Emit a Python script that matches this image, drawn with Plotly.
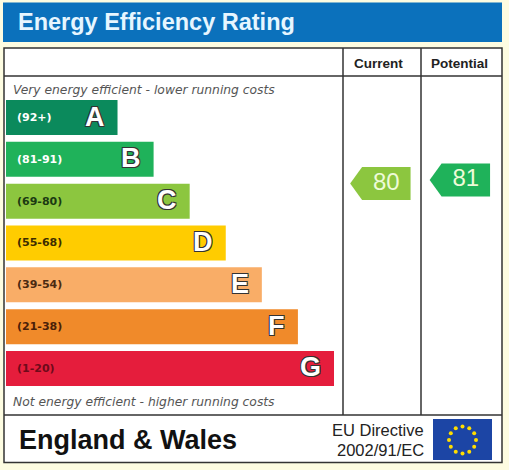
import math
import plotly.graph_objects as go

# EPC bands, top (best) to bottom (worst)
bands = ["A", "B", "C", "D", "E", "F", "G"]
band_ranges = ["(92+)", "(81-91)", "(69-80)", "(55-68)", "(39-54)", "(21-38)", "(1-20)"]
band_lower = [92, 81, 69, 55, 39, 21, 1]
bar_length = [34, 45, 56, 67, 78, 89, 100]  # relative bar lengths, G = 100
band_colors = ["#0b8a5c", "#1fb25a", "#8cc63f", "#ffcc00", "#f9ad67", "#f08a2a", "#e51d3c"]
range_text_colors = ["#ffffff", "#ffffff", "#1c3a12", "#3d2c00", "#4a2a12", "#4a2008", "#6e0a1a"]

columns = ["Current", "Potential"]
ratings = [80, 81]

W, H = 509, 470
FONT = "Liberation Sans, Arial, sans-serif"
WIDE = "DejaVu Sans, Verdana, sans-serif"


def px(x):
    return x / W


def py(y):
    return 1 - y / H


def band_of(r):
    for i, lo in enumerate(band_lower):
        if r >= lo:
            return i
    return len(bands) - 1


fig = go.Figure()

# rating bars
fig.add_trace(go.Bar(
    x=bar_length, y=bands, orientation="h",
    marker=dict(color=band_colors, line=dict(width=0)),
    width=0.837, hoverinfo="skip", xaxis="x", yaxis="y",
))

# current / potential arrows
for ci, r in enumerate(ratings):
    c = ci + 0.5
    h = 4.7
    xs = [c - 0.41, c - 0.26, c + 0.35, c + 0.35, c - 0.26, c - 0.41]
    ys = [r, r + h, r + h, r - h, r - h, r]
    fig.add_trace(go.Scatter(
        x=xs, y=ys, mode="lines", fill="toself",
        fillcolor=band_colors[band_of(r)], line=dict(width=0),
        hoverinfo="skip", xaxis="x2", yaxis="y2",
    ))
    fig.add_trace(go.Scatter(
        x=[c + 0.045], y=[r], mode="text", text=[str(r)],
        textfont=dict(family=FONT, size=24, color="#eefbd8"),
        hoverinfo="skip", xaxis="x2", yaxis="y2",
    ))

# EU flag stars
cx, cy, rad = 462.5, 440, 13.5
sx = [cx + rad * math.cos(2 * math.pi * k / 12) for k in range(12)]
sy = [cy + rad * math.sin(2 * math.pi * k / 12) for k in range(12)]
fig.add_trace(go.Scatter(
    x=sx, y=sy, mode="markers",
    marker=dict(symbol="circle", size=4, color="#ffdd00"),
    hoverinfo="skip", xaxis="x3", yaxis="y3",
))

ann = []
for i, b in enumerate(bands):
    ann.append(dict(
        x=0, y=b, xref="x", yref="y", text="<b>" + band_ranges[i] + "</b>",
        xanchor="left", xshift=9, showarrow=False,
        font=dict(family=WIDE, size=11, color=range_text_colors[i]),
    ))
    ann.append(dict(
        x=bar_length[i], y=b, xref="x", yref="y", text="<b>" + b + "</b>",
        xanchor="right", xshift=-11, yshift=1, showarrow=False,
        font=dict(family=FONT, size=27, color="#ffffff",
                  shadow="-1px -1px 0 #333, 1px -1px 0 #333, -1px 1px 0 #333, 1px 1px 0 #333"),
    ))

ann += [
    dict(x=px(16), y=py(22), text="<b>Energy Efficiency Rating</b>",
         font=dict(family=FONT, size=23.5, color="#e6f6ff")),
    dict(x=px(378), y=py(63), xanchor="center", text="<b>Current</b>",
         font=dict(family=FONT, size=13.5, color="#222")),
    dict(x=px(459.5), y=py(63), xanchor="center", text="<b>Potential</b>",
         font=dict(family=FONT, size=13.5, color="#222")),
    dict(x=px(11), y=py(90), text="<i>Very energy efficient - lower running costs</i>",
         font=dict(family=WIDE, size=12.3, color="#555")),
    dict(x=px(11), y=py(402), text="<i>Not energy efficient - higher running costs</i>",
         font=dict(family=WIDE, size=12.3, color="#555")),
    dict(x=px(17), y=py(440), text="<b>England &amp; Wales</b>",
         font=dict(family=FONT, size=27, color="#111")),
    dict(x=px(426), y=py(430), xanchor="right", text="EU Directive",
         font=dict(family=FONT, size=16.5, color="#222")),
    dict(x=px(426), y=py(450), xanchor="right", text="2002/91/EC",
         font=dict(family=FONT, size=16.5, color="#222")),
]
for a in ann:
    a.setdefault("xref", "paper")
    a.setdefault("yref", "paper")
    a.setdefault("xanchor", "left")
    a.setdefault("yanchor", "middle")
    a.setdefault("showarrow", False)

line_c = "#333333"
shapes = [
    dict(type="rect", x0=px(3), x1=px(502), y0=py(2.5), y1=py(42),
         fillcolor="#0b71bc", line=dict(width=0)),
    dict(type="rect", x0=px(4), x1=px(502), y0=py(48), y1=py(462.5),
         fillcolor="#ffffff", line=dict(color=line_c, width=1.5)),
    dict(type="line", x0=px(4), x1=px(502), y0=py(76), y1=py(76),
         line=dict(color=line_c, width=1.5)),
    dict(type="line", x0=px(4), x1=px(502), y0=py(415), y1=py(415),
         line=dict(color=line_c, width=1.5)),
    dict(type="line", x0=px(343), x1=px(343), y0=py(48), y1=py(415),
         line=dict(color=line_c, width=1.5)),
    dict(type="line", x0=px(421), x1=px(421), y0=py(48), y1=py(415),
         line=dict(color=line_c, width=1.5)),
    dict(type="rect", x0=px(433), x1=px(492), y0=py(419), y1=py(460),
         fillcolor="#1c45a5", line=dict(width=0)),
]
for s in shapes:
    s["xref"] = "paper"
    s["yref"] = "paper"
    s["layer"] = "below"

hidden = dict(visible=False, fixedrange=True, showgrid=False, zeroline=False)
fig.update_layout(
    width=W, height=H,
    margin=dict(l=0, r=0, t=0, b=0),
    paper_bgcolor="#fdfce1",
    plot_bgcolor="rgba(0,0,0,0)",
    showlegend=False,
    xaxis=dict(hidden, domain=[px(6), px(334)], range=[0, 100], anchor="y"),
    yaxis=dict(hidden, domain=[0.1715, 0.7945], type="category",
               categoryorder="array", categoryarray=bands,
               range=[len(bands) - 0.5, -0.5], anchor="x"),
    xaxis2=dict(hidden, domain=[px(343), px(502)], range=[0, 2], anchor="y2"),
    yaxis2=dict(hidden, domain=[0, 1], range=[-1.86, 132.43], anchor="x2"),
    xaxis3=dict(hidden, domain=[0, 1], range=[0, W], anchor="y3"),
    yaxis3=dict(hidden, domain=[0, 1], range=[H, 0], anchor="x3"),
    annotations=ann,
    shapes=shapes,
)

# drop the browser's default body margin so the chart sits at the page corner
fig.write_html("out.html", config={"displayModeBar": False},
               post_script="document.body.style.margin='0';")
